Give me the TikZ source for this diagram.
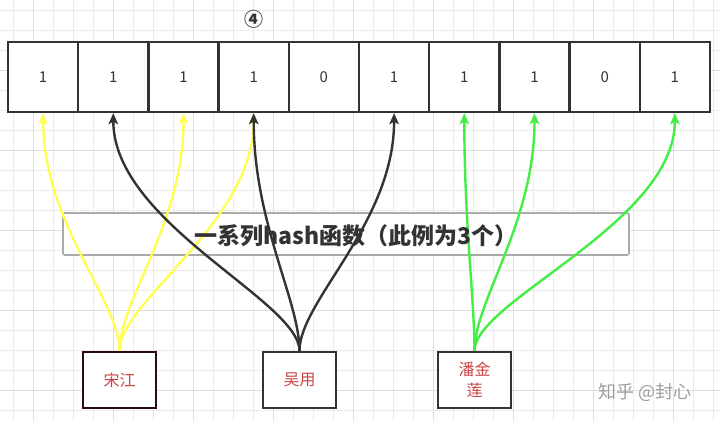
\documentclass[tikz,border=0pt]{standalone}
\usepackage{fontspec}
\setmainfont{Noto Sans CJK SC}
\usetikzlibrary{arrows.meta}
\definecolor{gridminor}{HTML}{EBEBEB}
\definecolor{gridmajor}{HTML}{DDDDDD}
\definecolor{ink}{HTML}{333333}
\definecolor{ylw}{HTML}{FFFF55}
\definecolor{grn}{HTML}{44EE44}
\definecolor{redtext}{HTML}{CC4444}
\definecolor{hashborder}{HTML}{AAAAAA}
\definecolor{brownborder}{HTML}{2A0A0A}
\tikzset{
  cell/.style={draw=ink, line width=2.3pt, minimum width=70.2pt, minimum height=70pt, inner sep=0pt, font=\fontsize{15pt}{17pt}\selectfont, text=ink},
  person/.style={draw=ink, line width=2.3pt, fill=white, minimum width=73pt, minimum height=56pt, inner sep=0pt, align=center, font=\fontsize{16pt}{21pt}\selectfont, text=redtext},
  conn/.style={line width=2.4pt, -{Stealth[length=11pt,width=9.5pt,inset=2.5pt]}},
}
\begin{document}
\begin{tikzpicture}[x=1pt,y=-1pt]
\useasboundingbox (0,0) rectangle (720,421);
\fill[white] (0,0) rectangle (720,421);
% grid
\foreach \gx in {13.33,33.33,...,720} {\draw[gridminor, line width=0.8pt] (\gx,0) -- (\gx,421);}
\foreach \gy in {10,30,...,421} {\draw[gridminor, line width=0.8pt] (0,\gy) -- (720,\gy);}
\foreach \gx in {33.33,113.33,...,720} {\draw[gridmajor, line width=0.9pt] (\gx,0) -- (\gx,421);}
\foreach \gy in {70,150,...,421} {\draw[gridmajor, line width=0.9pt] (0,\gy) -- (720,\gy);}
% cells
\foreach \v [count=\i] in {1,1,1,1,0,1,1,1,0,1} {
  \node[cell, fill=white] (c\i) at ({8+70.2*(\i-0.5)},77) {\v};
}
\node[text=ink, font=\bfseries\fontsize{19pt}{19pt}\selectfont] (mark) at (253.5,19) {④};
% hash box
\node[draw=hashborder, line width=1.6pt, fill=white, rounded corners=2pt, minimum width=566pt, minimum height=42pt, inner sep=0pt] (hashbox) at (346,234) {};
% persons
\node[person, draw=brownborder] (song) at (119.5,380) {宋江};
\node[person] (wu) at (299.5,380) {吴用};
\node[person] (pan) at (474.5,380) {潘金\\莲};
% connectors
\foreach \t in {1,3,4} {\draw[conn, ylw] (song.north) .. controls +(0,-50) and +(0,110) .. (c\t.south);}
\foreach \t in {2,4,6} {\draw[conn, ink] (wu.north) .. controls +(0,-50) and +(0,110) .. (c\t.south);}
\foreach \t in {7,8,10} {\draw[conn, grn] (pan.north) .. controls +(0,-50) and +(0,110) .. (c\t.south);}
% hash label
\node[text=ink, font=\bfseries\fontsize{23pt}{23pt}\selectfont] (hashlabel) at (356,236) {一系列hash函数（此例为3个）};
% watermark
\node[text=black!38, font=\fontsize{18pt}{18pt}\selectfont] (wm) at (645,392) {知乎 @封心};
\end{tikzpicture}
\end{document}
